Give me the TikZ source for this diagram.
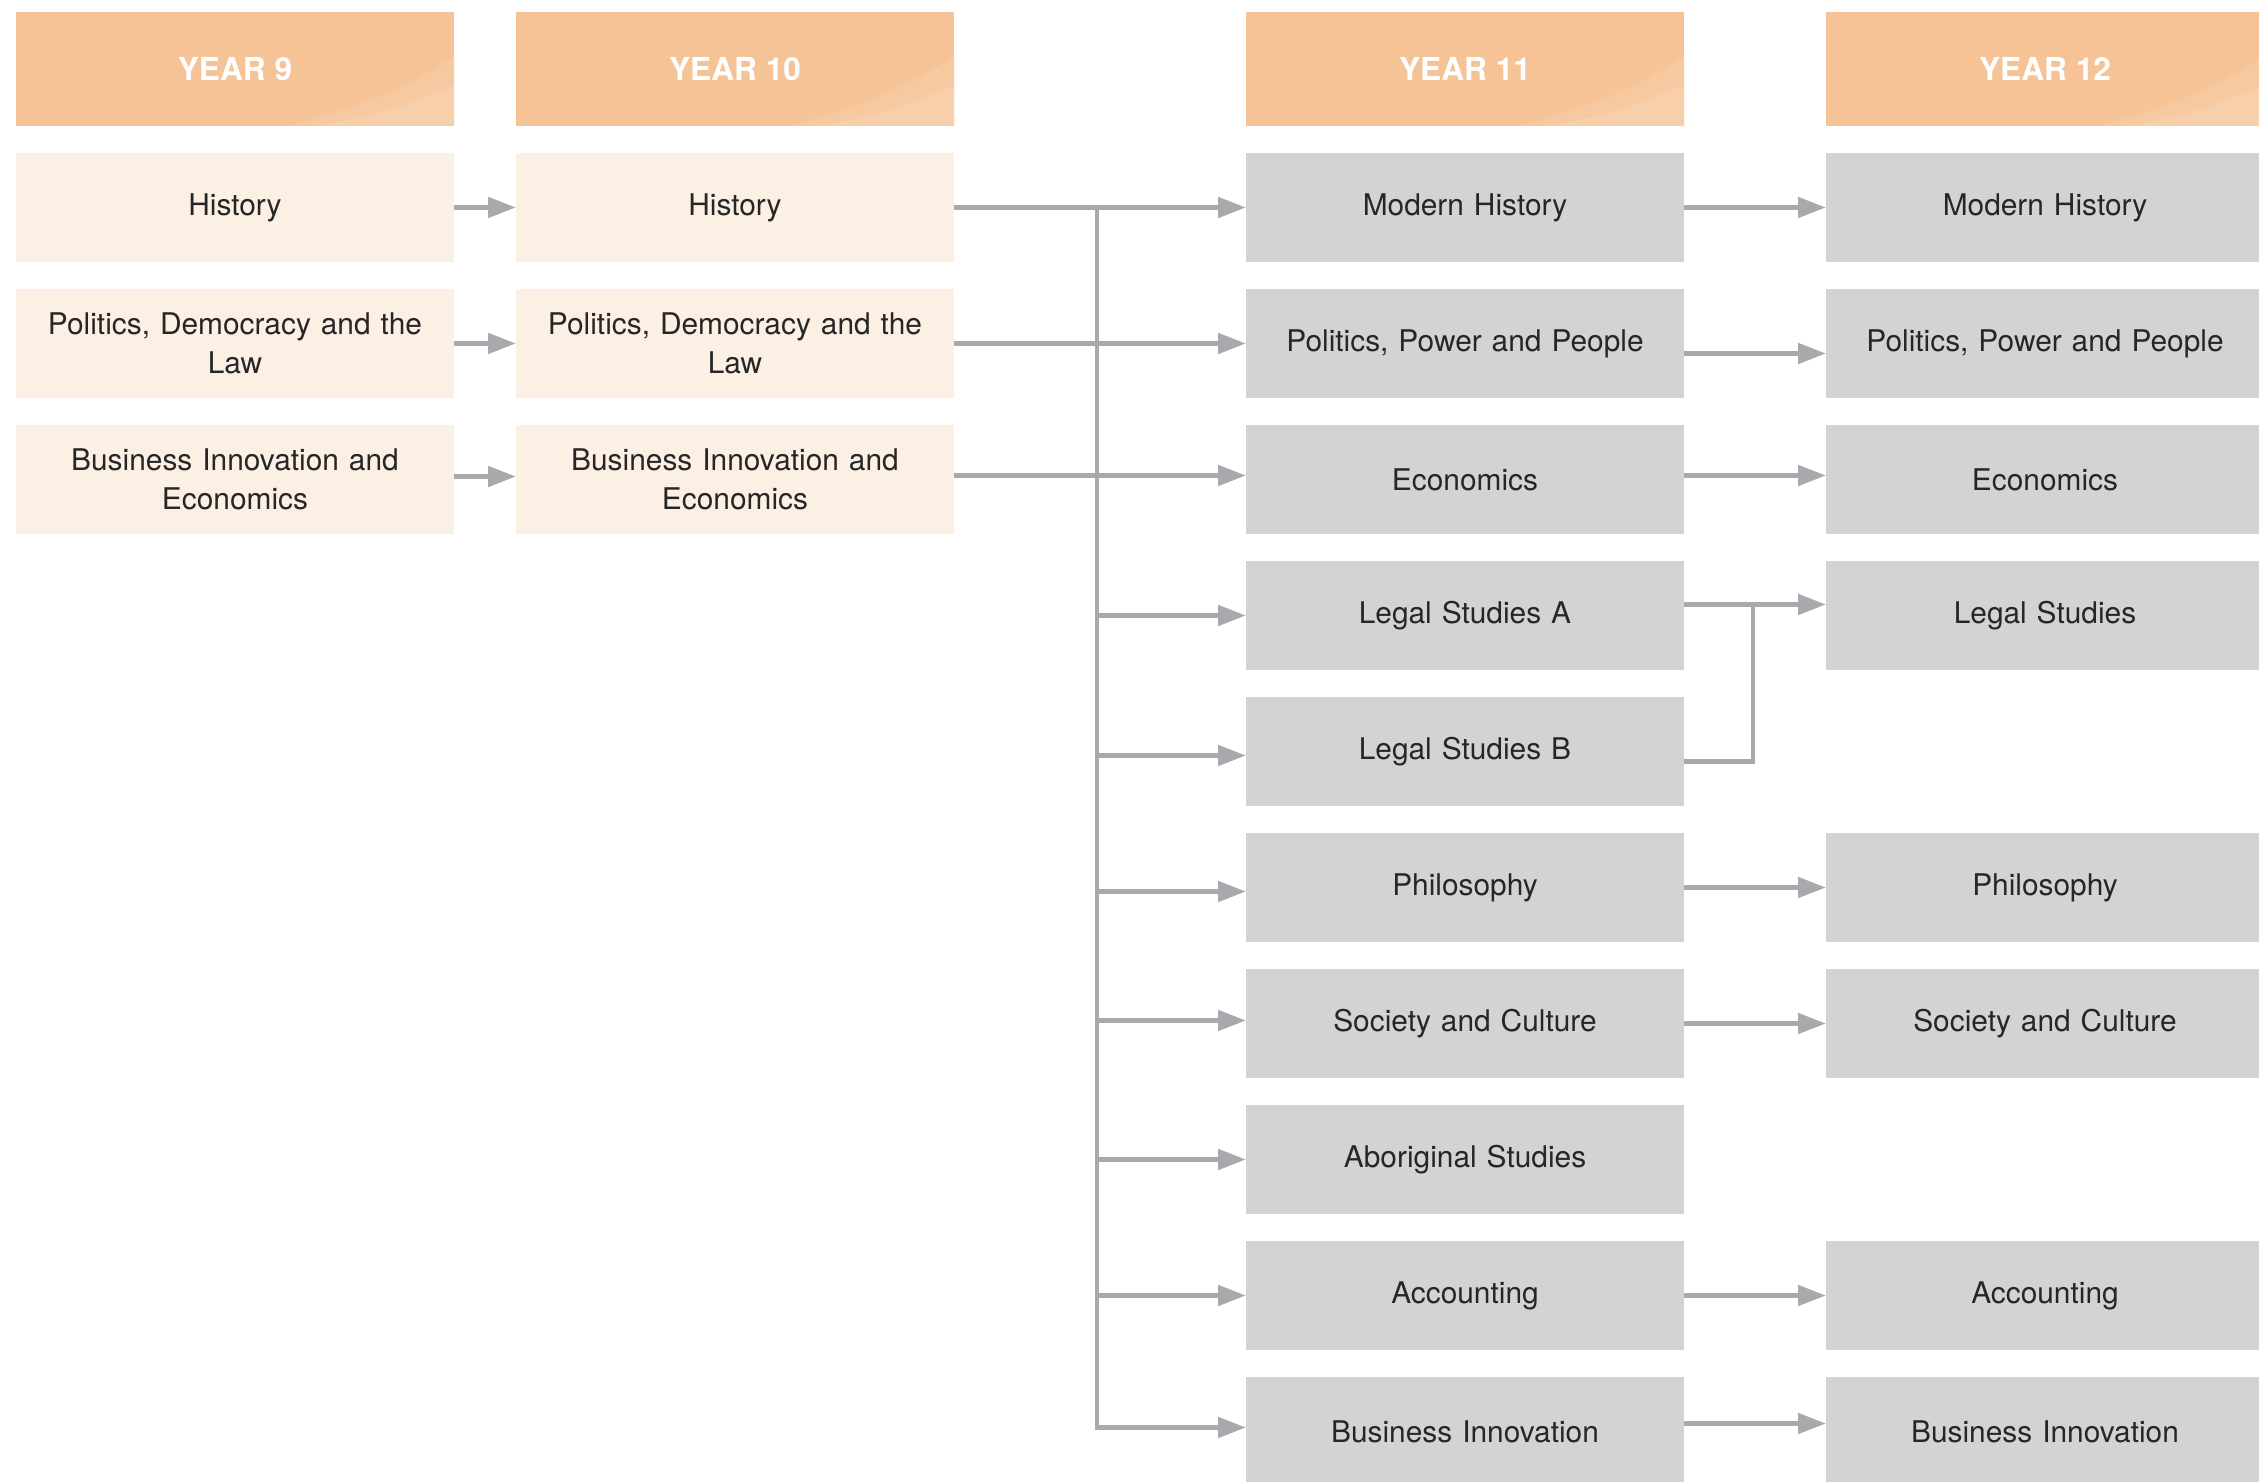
\documentclass[tikz,border=0pt]{standalone}
\usepackage{fontspec}
\setmainfont{TeX Gyre Heros}
\usetikzlibrary{positioning,arrows.meta}
\definecolor{headfill}{HTML}{F5C396}
\definecolor{bandone}{HTML}{F6C9A0}
\definecolor{bandtwo}{HTML}{F7CFAB}
\definecolor{juniorfill}{HTML}{FCEFE4}
\definecolor{seniorfill}{HTML}{D1D3D4}
\definecolor{linkgrey}{HTML}{A7A9AC}
\definecolor{textgrey}{HTML}{262626}
\tikzstyle{head} = [rectangle,
                    minimum width=4.38cm,
                    minimum height=1.14cm,
                    inner sep=0pt, outer sep=0pt,
                    text centered,
                    fill=headfill,
                    text=white,
                    font=\fontsize{9}{11}\selectfont\bfseries,
                    path picture={
                      \fill[bandone] ([xshift=2.72cm]path picture bounding box.south west)
                        .. controls +(0.9cm,0.25cm) and +(-0.5cm,-0.3cm) ..
                        ([yshift=0.69cm]path picture bounding box.south east)
                        -- (path picture bounding box.south east) -- cycle;
                      \fill[bandtwo] ([xshift=3.02cm]path picture bounding box.south west)
                        .. controls +(0.8cm,0.15cm) and +(-0.5cm,-0.2cm) ..
                        ([yshift=0.41cm]path picture bounding box.south east)
                        -- (path picture bounding box.south east) -- cycle;
                    }]
\tikzstyle{junior} = [rectangle,
                      minimum width=4.38cm,
                      minimum height=1.09cm,
                      text width=4.2cm,
                      inner sep=0pt, outer sep=0pt,
                      align=center,
                      fill=juniorfill,
                      text=textgrey,
                      font=\fontsize{8.5}{11}\selectfont]
\tikzstyle{senior} = [junior, fill=seniorfill]
\tikzstyle{feed} = [draw=linkgrey, line width=1.4pt,
                    -{Triangle[length=0.28cm,width=0.2cm]}]
\tikzstyle{spine} = [draw=linkgrey, line width=1.4pt]

\begin{document}
\begin{tikzpicture}[node distance=0.27cm and 0.62cm]
\useasboundingbox (0,0) rectangle (22.59,-14.82);
\clip (0,0) rectangle (22.59,-14.82);

% headers
\node (y9) [head, anchor=north west] at (0.16,-0.12) {YEAR 9};
\node (y10) [head, right=0.62cm of y9] {YEAR 10};
\node (y11) [head, right=2.92cm of y10] {YEAR 11};
\node (y12) [head, right=1.42cm of y11] {YEAR 12};

% year 9
\node (hi9) [junior, below= of y9] {History};
\node (pd9) [junior, below= of hi9] {Politics, Democracy and the\\Law};
\node (bi9) [junior, below= of pd9] {Business Innovation and\\Economics};

% year 10
\node (hi10) [junior, below= of y10] {History};
\node (pd10) [junior, below= of hi10] {Politics, Democracy and the\\Law};
\node (bi10) [junior, below= of pd10] {Business Innovation and\\Economics};

% year 11
\node (mh11) [senior, below= of y11] {Modern History};
\node (pp11) [senior, below= of mh11] {Politics, Power and People};
\node (ec11) [senior, below= of pp11] {Economics};
\node (lsa11) [senior, below= of ec11] {Legal Studies A};
\node (lsb11) [senior, below= of lsa11] {Legal Studies B};
\node (ph11) [senior, below= of lsb11] {Philosophy};
\node (sc11) [senior, below= of ph11] {Society and Culture};
\node (ab11) [senior, below= of sc11] {Aboriginal Studies};
\node (ac11) [senior, below= of ab11] {Accounting};
\node (bi11) [senior, below= of ac11] {Business Innovation};

% year 12
\node (mh12) [senior, below= of y12] {Modern History};
\node (pp12) [senior, below= of mh12] {Politics, Power and People};
\node (ec12) [senior, below= of pp12] {Economics};
\node (ls12) [senior, below= of ec12] {Legal Studies};
\node (ph12) [senior, right=1.42cm of ph11] {Philosophy};
\node (sc12) [senior, below= of ph12] {Society and Culture};
\node (ac12) [senior, right=1.42cm of ac11] {Accounting};
\node (bi12) [senior, below= of ac12] {Business Innovation};

% year 9 -> year 10
\draw[feed] (hi9.east) -- (hi10.west);
\draw[feed] (pd9.east) -- (pd10.west);
\draw[feed] ([yshift=0.03cm]bi9.east) -- ([yshift=0.03cm]bi10.west);

% year 10 -> year 11
\draw[feed] (hi10.east) -- (mh11.west);
\draw[feed] (pd10.east) -- (pp11.west);
\draw[feed] ([yshift=0.04cm]bi10.east) -- ([yshift=0.04cm]ec11.west);

% spine down the year 11 column
\coordinate (top) at ([xshift=-1.49cm]mh11.west);
\draw[feed] (top) |- ([yshift=0.04cm]bi11.west);
\draw[feed] (top |- lsa11.west) -- (lsa11.west);
\draw[feed] ([yshift=-0.04cm]top |- lsb11.west) -- ([yshift=-0.04cm]lsb11.west);
\draw[feed] ([yshift=-0.04cm]top |- ph11.west) -- ([yshift=-0.04cm]ph11.west);
\draw[feed] ([yshift=0.03cm]top |- sc11.west) -- ([yshift=0.03cm]sc11.west);
\draw[feed] (top |- ab11.west) -- (ab11.west);
\draw[feed] (top |- ac11.west) -- (ac11.west);

% year 11 -> year 12
\draw[feed] (mh11.east) -- (mh12.west);
\draw[feed] ([yshift=-0.1cm]pp11.east) -- ([yshift=-0.1cm]pp12.west);
\draw[feed] ([yshift=0.04cm]ec11.east) -- ([yshift=0.04cm]ec12.west);
\draw[feed] ([yshift=0.11cm]lsa11.east) -- ([yshift=0.11cm]ls12.west);
\coordinate (lsjoin) at ([xshift=0.69cm,yshift=0.11cm]lsa11.east);
\draw[spine] ([yshift=-0.1cm]lsb11.east) -| (lsjoin);
\draw[feed] (ph11.east) -- (ph12.west);
\draw[feed] (sc11.east) -- (sc12.west);
\draw[feed] (ac11.east) -- (ac12.west);
\draw[feed] ([yshift=0.08cm]bi11.east) -- ([yshift=0.08cm]bi12.west);
\end{tikzpicture}
\end{document}
